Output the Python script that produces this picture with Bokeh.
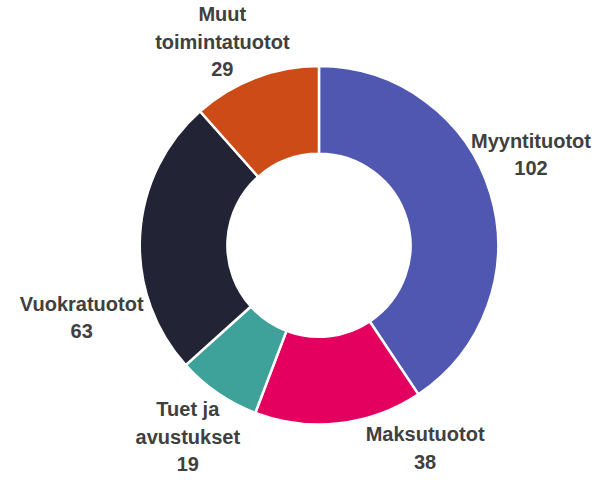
import math
from bokeh.plotting import figure
from bokeh.models import Range1d, ColumnDataSource
from bokeh.core.properties import value
from bokeh.embed import file_html
from bokeh.resources import INLINE

# ---- data ----
categories = ["Myyntituotot", "Maksutuotot", "Tuet ja avustukset", "Vuokratuotot", "Muut toimintatuotot"]
label_names = ["Myyntituotot", "Maksutuotot", "Tuet ja\navustukset", "Vuokratuotot", "Muut\ntoimintatuotot"]
values = [102, 38, 19, 63, 29]
colors = ["#4F57B0", "#E4005F", "#3EA29A", "#232336", "#CD4B16"]

# ---- layout / style ----
W, H = 597, 477
CX, CY = 327, 240          # donut centre in data units
R_OUT, R_IN = 184, 94
LABEL_R = 240
# per-label nudges (right, down) relative to the mid-angle anchor
nudges = [(-12, -24), (82, -29), (1, 0), (-4, 88), (-14, 14)]

total = float(sum(values))
starts, ends, lx, ly, texts = [], [], [], [], []
cum = 0.0
for v, name, (dx, dy) in zip(values, label_names, nudges):
    a0 = cum / total * 2 * math.pi
    cum += v
    a1 = cum / total * 2 * math.pi
    starts.append(math.pi / 2 - a0)
    ends.append(math.pi / 2 - a1)
    mid = (a0 + a1) / 2
    lx.append(CX + LABEL_R * math.sin(mid) + dx)
    ly.append(CY + LABEL_R * math.cos(mid) - dy)
    texts.append(f"{name}\n{v}")

src = ColumnDataSource(dict(start=starts, end=ends, color=colors, cat=categories))
lsrc = ColumnDataSource(dict(x=lx, y=ly, text=texts))

p = figure(width=W, height=H, output_backend="svg", toolbar_location=None,
           x_range=Range1d(0, 613), y_range=Range1d(0, 493),
           min_border=0, tools="")
p.axis.visible = False
p.grid.visible = False
p.outline_line_color = None
p.background_fill_color = "white"
p.border_fill_color = "white"

p.annular_wedge(x=CX, y=CY, inner_radius=R_IN, outer_radius=R_OUT,
                start_angle="start", end_angle="end", direction="clock",
                fill_color="color", line_color="white", line_width=2.5, source=src)

p.text(x="x", y="y", text="text", source=lsrc,
       text_font=value("Liberation Sans"), text_font_style="bold",
       text_font_size="20px", text_color="#404040",
       text_align="center", text_baseline="middle", text_line_height=1.25)

open("out.html", "w").write(file_html(p, INLINE))
